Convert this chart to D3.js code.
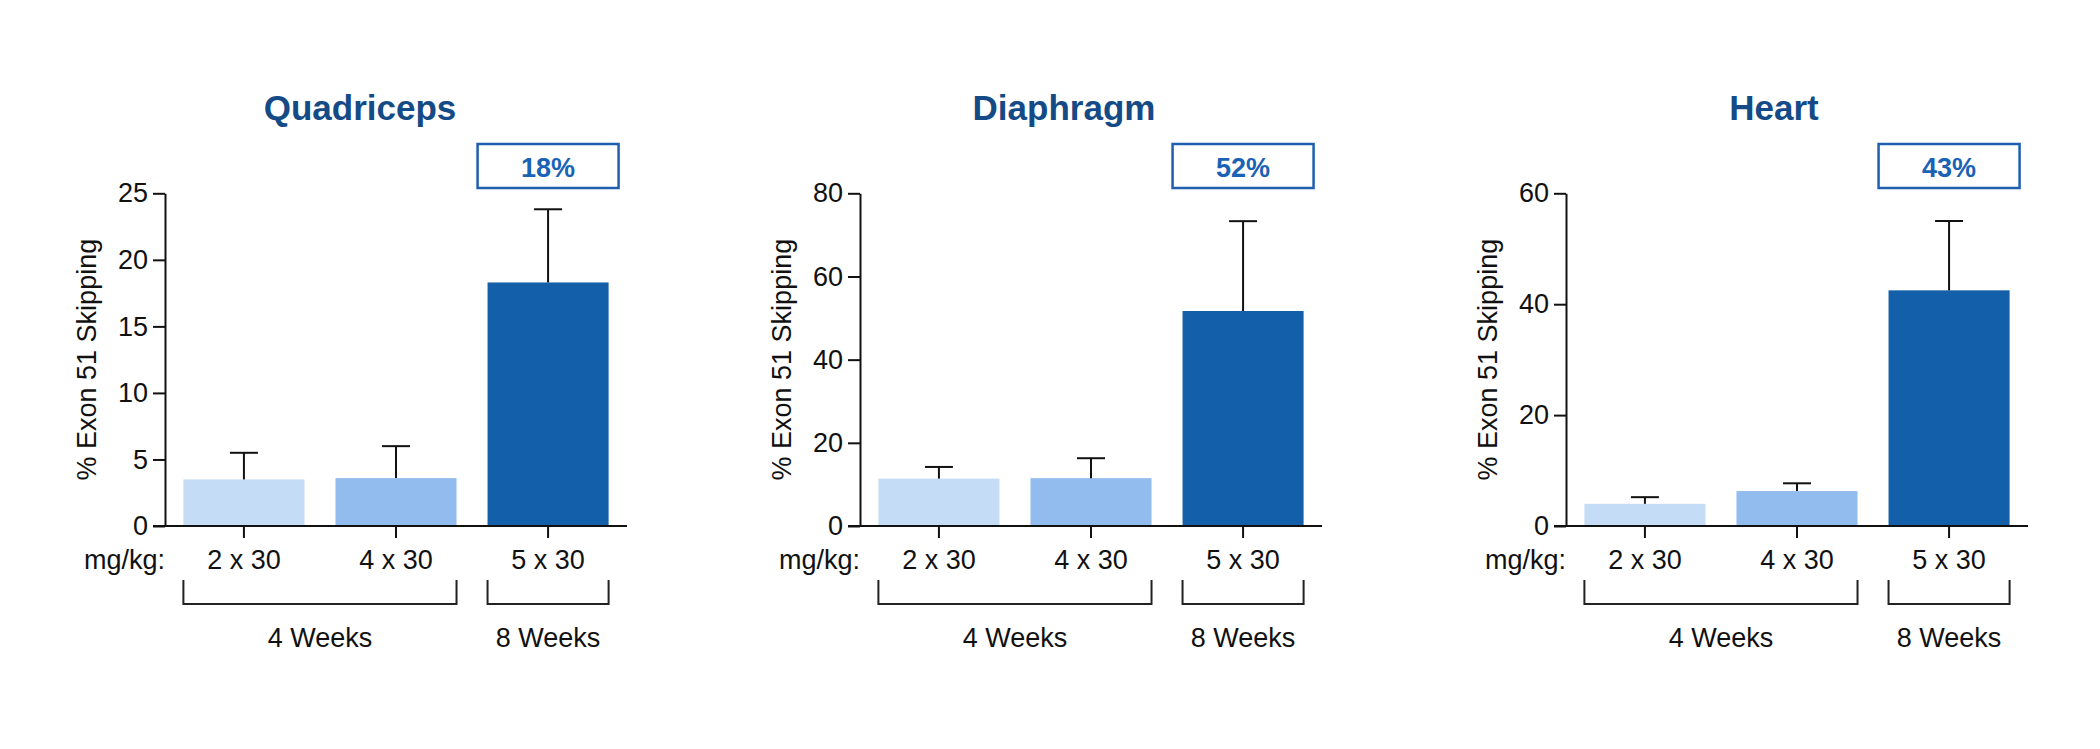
<!DOCTYPE html>
<html>
<head>
<meta charset="utf-8">
<script src="https://cdn.jsdelivr.net/npm/d3@7"></script>
<style>
  html, body { margin: 0; padding: 0; background: #ffffff; }
  svg { display: block; }
</style>
</head>
<body>
<svg id="chart" width="2100" height="749"></svg>
<script>
// ---------------- data ----------------
const categories = ["2 x 30", "4 x 30", "5 x 30"];
const panelTitles = ["Quadriceps", "Diaphragm", "Heart"];
const quadricepsMean = [3.5, 3.6, 18.3];
const quadricepsUpper = [5.5, 6.0, 23.8];
const diaphragmMean = [11.4, 11.5, 51.7];
const diaphragmUpper = [14.2, 16.3, 73.3];
const heartMean = [4.0, 6.3, 42.5];
const heartUpper = [5.2, 7.7, 55.0];
const yMaxes = [25, 80, 60];
const yTicks = [[0, 5, 10, 15, 20, 25], [0, 20, 40, 60, 80], [0, 20, 40, 60]];
const highlightLabels = ["18%", "52%", "43%"];
const groupLabels = ["4 Weeks", "8 Weeks"];
const groupSpans = [[0, 1], [2, 2]];
const yAxisTitle = "% Exon 51 Skipping";
const doseLabel = "mg/kg:";

const means = [quadricepsMean, diaphragmMean, heartMean];
const uppers = [quadricepsUpper, diaphragmUpper, heartUpper];

// ---------------- layout ----------------
const barColors = ["#c5dcf6", "#92bcee", "#135fa9"];
const panelLeft = [165, 860, 1566];
const titleDx = [195, 204, 208];
const plotW = 462;
const plotTop = 193.3, plotBottom = 526;
const font = "'Liberation Sans', Arial, Helvetica, sans-serif";
const axisFont = 27;

const svg = d3.select("#chart");
svg.append("rect").attr("width", 2100).attr("height", 749).attr("fill", "#fff");

panelTitles.forEach((title, p) => {
  const x0 = panelLeft[p];
  const g = svg.append("g");

  const x = d3.scaleBand().domain(categories)
    .range([x0, x0 + plotW]).paddingInner(0.204).paddingOuter(0.121);
  const y = d3.scaleLinear().domain([0, yMaxes[p]]).range([plotBottom, plotTop]);

  // title
  g.append("text")
    .attr("x", x0 + titleDx[p]).attr("y", 120)
    .attr("text-anchor", "middle")
    .attr("font-family", font).attr("font-weight", "bold")
    .attr("font-size", 35).attr("fill", "#144a85")
    .text(title);

  // bars
  const rows = categories.map((c, i) => ({ c, i, v: means[p][i], u: uppers[p][i] }));
  g.selectAll("rect.bar").data(rows).enter().append("rect")
    .attr("class", "bar")
    .attr("x", d => x(d.c))
    .attr("width", x.bandwidth())
    .attr("y", d => y(d.v))
    .attr("height", d => y(0) - y(d.v))
    .attr("fill", (d, i) => barColors[i]);

  // error bars (upper only)
  const eb = g.selectAll("g.err").data(rows).enter().append("g").attr("class", "err")
    .attr("stroke", "#111").attr("stroke-width", 2);
  eb.append("line")
    .attr("x1", d => x(d.c) + x.bandwidth() / 2).attr("x2", d => x(d.c) + x.bandwidth() / 2)
    .attr("y1", d => y(d.v)).attr("y2", d => y(d.u));
  eb.append("line")
    .attr("x1", d => x(d.c) + x.bandwidth() / 2 - 14).attr("x2", d => x(d.c) + x.bandwidth() / 2 + 14)
    .attr("y1", d => y(d.u)).attr("y2", d => y(d.u));

  // y axis
  const yAxis = g.append("g").attr("transform", `translate(${x0},0)`)
    .call(d3.axisLeft(y).tickValues(yTicks[p]).tickSize(12).tickSizeOuter(0).tickPadding(5));
  yAxis.selectAll("path, line").attr("stroke", "#111").attr("stroke-width", 2);
  yAxis.selectAll("text").attr("font-family", font).attr("font-size", axisFont).attr("fill", "#111");

  // x axis
  const xAxis = g.append("g").attr("transform", `translate(0,${plotBottom})`)
    .call(d3.axisBottom(x).tickSize(12).tickSizeOuter(0).tickPadding(12));
  xAxis.select("path.domain").attr("d", `M${x0 - 12},0H${x0 + plotW}`);
  xAxis.selectAll("path, line").attr("stroke", "#111").attr("stroke-width", 2);
  xAxis.selectAll("text").attr("font-family", font).attr("font-size", axisFont).attr("fill", "#111");

  // dose label
  g.append("text")
    .attr("x", x0).attr("y", 569)
    .attr("text-anchor", "end")
    .attr("font-family", font).attr("font-size", axisFont).attr("fill", "#111")
    .text(doseLabel);

  // y-axis title
  g.append("text")
    .attr("transform", `translate(${x0 - 69},${(plotTop + plotBottom) / 2}) rotate(-90)`)
    .attr("text-anchor", "middle")
    .attr("font-family", font).attr("font-size", axisFont).attr("fill", "#111")
    .text(yAxisTitle);

  // group brackets
  groupSpans.forEach((span, k) => {
    const xa = x(categories[span[0]]);
    const xb = x(categories[span[1]]) + x.bandwidth();
    g.append("path")
      .attr("d", `M${xa},580V604H${xb}V580`)
      .attr("fill", "none").attr("stroke", "#222").attr("stroke-width", 2);
    g.append("text")
      .attr("x", (xa + xb) / 2).attr("y", 647)
      .attr("text-anchor", "middle")
      .attr("font-family", font).attr("font-size", axisFont).attr("fill", "#111")
      .text(groupLabels[k]);
  });

  // highlight box over last bar
  const last = categories[categories.length - 1];
  const cx = x(last) + x.bandwidth() / 2;
  g.append("rect")
    .attr("x", cx - 70.5).attr("y", 144)
    .attr("width", 141).attr("height", 44)
    .attr("fill", "#fff").attr("stroke", "#1f5fae").attr("stroke-width", 2.5);
  g.append("text")
    .attr("x", cx).attr("y", 176.5)
    .attr("text-anchor", "middle")
    .attr("font-family", font).attr("font-weight", "bold")
    .attr("font-size", 27).attr("fill", "#1a62b5")
    .text(highlightLabels[p]);
});
</script>
</body>
</html>
